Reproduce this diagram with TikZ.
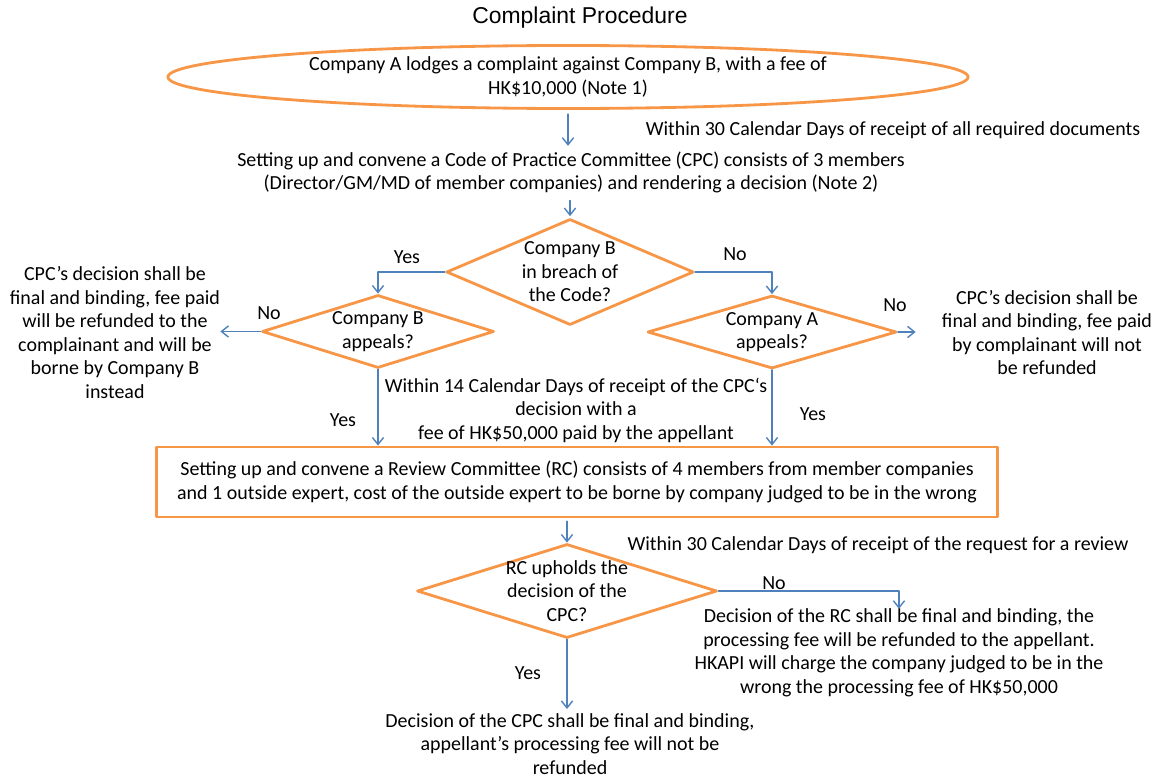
\documentclass[tikz,border=0pt]{standalone}
\usepackage{fontspec}
\setmainfont{Carlito}
\newfontfamily\titlefont{Liberation Sans}
\usetikzlibrary{shapes.geometric,arrows.meta}
\definecolor{boxorange}{HTML}{F79646}
\definecolor{linkblue}{HTML}{4F81BD}
\tikzset{
  txt/.style={align=center,font=\fontsize{14.2}{16.7}\selectfont,inner sep=0pt},
  outline/.style={draw=boxorange,line width=2pt},
  dec/.style={outline,shape=diamond,inner sep=0pt,label={[txt]center:{#1}}},
  link/.style={draw=linkblue,line width=1pt,->},
}
\begin{document}
\begin{tikzpicture}[line cap=round,line join=round,>={Straight Barb[length=5pt,width=8pt]},x=0.025cm,y=-0.025cm]
\useasboundingbox (0,0) rectangle (1159,782);
% title and start
\node[font=\titlefont\fontsize{16.3}{19}\selectfont] (title) at (580,18) {Complaint Procedure};
\node[txt,outline,shape=ellipse,minimum width=20cm,minimum height=1.575cm] (start) at (568,77)
  {Company A lodges a complaint against Company B, with a fee of\\HK\$10,000 (Note 1)};
\node[txt] (within1) at (893,130) {Within 30 Calendar Days of receipt of all required documents};
\node[txt] (cpc) at (571,172.5) {Setting up and convene a Code of Practice Committee (CPC) consists of 3 members\\(Director/GM/MD of member companies) and rendering a decision (Note 2)};
% first decisions
\node[dec={Company B\\in breach of\\the Code?},minimum width=6.18cm,minimum height=2.65cm] (breach) at (570,272) {};
\node[dec={Company B\\appeals?},minimum width=5.8cm,minimum height=1.825cm] (appB) at (378,331.5) {};
\node[dec={Company A\\appeals?},minimum width=6.225cm,minimum height=1.825cm] (appA) at (772,332) {};
\node[txt] (lt) at (115,332.5) {CPC’s decision shall be\\final and binding, fee paid\\will be refunded to the\\complainant and  will be\\borne by Company B\\instead};
\node[txt] (rt) at (1047,332.5) {CPC’s decision shall be\\final and binding, fee paid\\by complainant will not\\be refunded};
\node[txt] (yes1) at (407,257) {Yes};
\node[txt] (no1) at (735,254) {No};
\node[txt] (noB) at (269,313) {No};
\node[txt] (noA) at (895,305) {No};
\node[txt] (yesB) at (343,420) {Yes};
\node[txt] (yesA) at (813,414) {Yes};
\node[txt] (mid) at (576,410) {Within 14 Calendar Days of receipt of the CPC‘s\\decision with a\\fee of HK\$50,000 paid by the appellant};
% review
\node[txt,outline,minimum width=21cm,minimum height=1.75cm] (rc) at (577,482) {Setting up and convene a Review Committee (RC) consists of 4 members from member companies\\and 1 outside expert, cost of the outside expert to be borne by company judged to be in the wrong};
\node[txt] (within2) at (878,545) {Within 30 Calendar Days of receipt of the request for a review};
\node[dec={RC upholds the\\decision of the\\CPC?},minimum width=7.5cm,minimum height=2.35cm] (uphold) at (567,591) {};
\node[txt] (noR) at (774,583) {No};
\node[txt] (yesR) at (528,673) {Yes};
\node[txt] (rb) at (899,653) {Decision of the RC shall be final and binding, the\\processing fee will be refunded to the appellant.\\HKAPI will charge the company judged to be in the\\wrong the processing fee of HK\$50,000};
\node[txt] (fin) at (570,744) {Decision of the CPC shall be final and binding,\\appellant’s processing fee will not be\\refunded};
% connectors
\draw[link,shorten <=3pt,shorten >=4pt] (start.south) -- (start.south |- cpc.north);
\draw[link,shorten <=5pt,shorten >=1pt] (breach.north |- cpc.south) -- (breach.north);
\draw[link] (breach.west) -| (appB.north);
\draw[link] (breach.east) -| (appA.north);
\draw[link] (appB.west) -- (appB.west -| lt.east);
\draw[link,shorten >=0.65cm] (appA.east) -- (appA.east -| rt.west);
\draw[link] (appB.south) -- (appB.south |- rc.north);
\draw[link] (appA.south) -- (appA.south |- rc.north);
\draw[link,shorten <=2pt] (uphold.north |- rc.south) -- (uphold.north);
\draw[link] (uphold.east) -| (rb.north);
\draw[link,shorten >=3pt] (uphold.south) -- (uphold.south |- fin.north);
\end{tikzpicture}
\end{document}
